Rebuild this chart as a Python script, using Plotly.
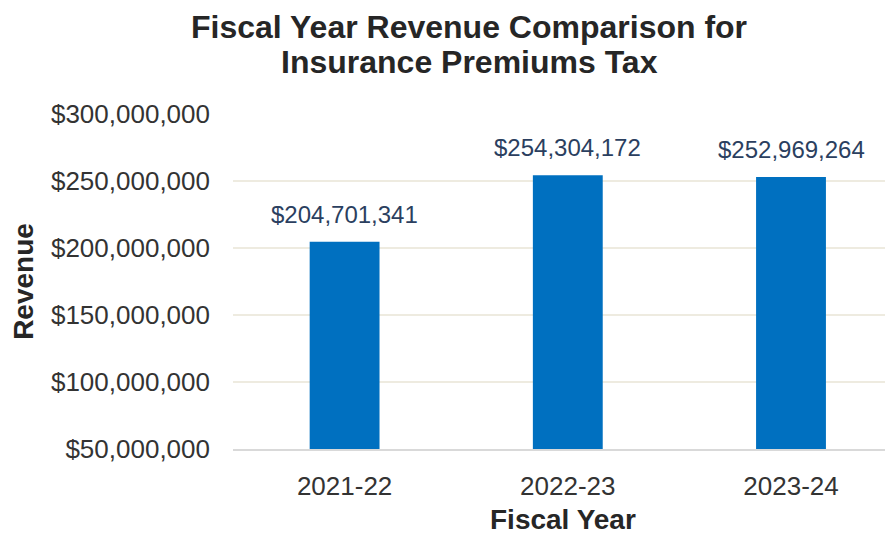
import plotly.graph_objects as go

categories = ["2021-22", "2022-23", "2023-24"]
revenue = [204701341, 254304172, 252969264]
labels = ["$204,701,341", "$254,304,172", "$252,969,264"]
tick_vals = [50000000, 100000000, 150000000, 200000000, 250000000, 300000000]
tick_text = ["$50,000,000", "$100,000,000", "$150,000,000", "$200,000,000", "$250,000,000", "$300,000,000"]
title_lines = ["Fiscal Year Revenue Comparison for", "Insurance Premiums Tax"]
x_title = "Fiscal Year"

FONT = "Liberation Sans, Arial"
W, H = 893, 534
L, R, T, B = 225, 8, 106, 93

fig = go.Figure(go.Bar(
    x=categories, y=revenue,
    marker=dict(color="#0070C0", line=dict(width=0)),
    width=0.313, hoverinfo="skip"))

annotations = []
for c, v, t in zip(categories, revenue, labels):
    annotations.append(dict(x=c, y=v, xref="x", yref="y", text=t, showarrow=False,
                            xanchor="center", yanchor="bottom", yshift=12,
                            font=dict(size=24, color="#2B3F5F", family=FONT)))
plot_w = W - L - R
plot_h = H - T - B
for i, line in enumerate(title_lines):
    px, py = 461, 19 + 35 * i
    annotations.append(dict(x=(px - L) / plot_w, y=(H - B - py) / plot_h, xref="paper", yref="paper",
                            text="<b>" + line + "</b>", showarrow=False,
                            xanchor="center", yanchor="middle",
                            font=dict(size=32, color="#262626", family=FONT)))
# x-axis title placed below tick labels
annotations.append(dict(x=0.5, y=(H - B - 511) / plot_h, xref="x domain", yref="paper",
                        text="<b>" + x_title + "</b>", showarrow=False,
                        xanchor="center", yanchor="middle",
                        font=dict(size=28, color="#262626", family=FONT)))

fig.update_layout(
    width=W, height=H,
    paper_bgcolor="white", plot_bgcolor="white",
    margin=dict(l=L, r=R, t=T, b=B, autoexpand=False),
    font=dict(family=FONT, color="#333333"),
    showlegend=False,
    annotations=annotations,
)

fig.update_xaxes(
    range=[-0.5, 2.457], showgrid=False, showline=True, linecolor="#D9D9D9", linewidth=2,
    ticks="", tickfont=dict(size=26, color="#333333"), ticklabelstandoff=13, automargin=False,
)
fig.update_yaxes(
    range=[50000000, 300000000], tickvals=tick_vals, ticktext=tick_text,
    showgrid=True, gridcolor="#EEEBE0", gridwidth=2, zeroline=False, automargin=False,
    tickfont=dict(size=26, color="#333333"), ticklabelstandoff=22,
    title=dict(text="<b>Revenue</b>", font=dict(size=28, color="#262626"), standoff=23),
)

fig.write_html("out.html")
